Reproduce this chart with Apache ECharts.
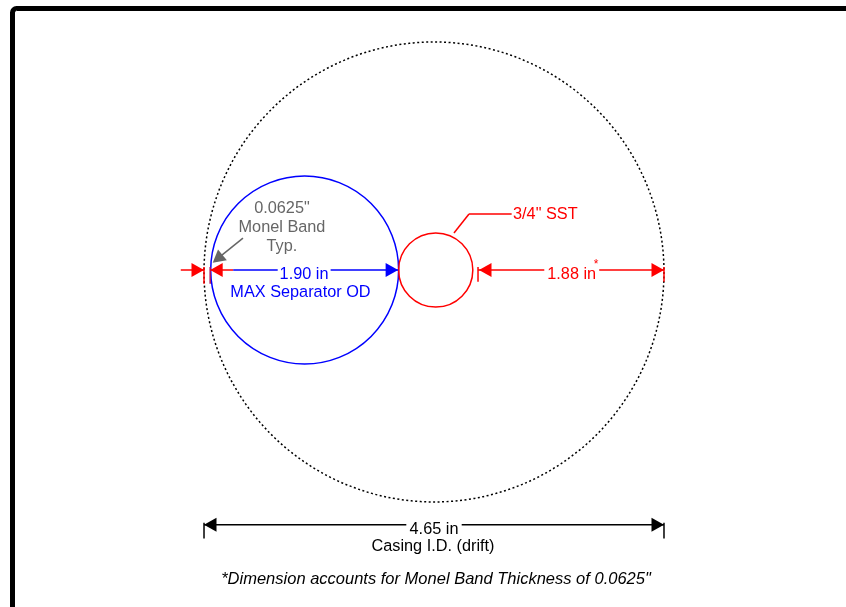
<!DOCTYPE html>
<html>
<head>
<meta charset="utf-8">
<style>html,body{margin:0;padding:0;background:#fff}#c{width:846px;height:607px}</style>
<script src="https://cdn.jsdelivr.net/npm/echarts@6/dist/echarts.min.js"></script>
</head>
<body>
<div id="c"></div>
<script>
// All lengths in inches, origin at the centre of the casing on the dimension line
const casingId = 4.65;
const bandThickness = 0.0625;
const separatorOd = 1.90;
const sstOd = 0.75;
const sstClearance = 1.88;
const overallDimY = -2.575;
const casingCenterY = -0.02;

const RED = '#ff0000', BLUE = '#0000ff', BLACK = '#000000', GRAY = '#666666';
const FONT = '"Liberation Sans", Helvetica, Arial, sans-serif';

const casingR = casingId / 2;
const sepLeft = -casingR + bandThickness;
const sepCx = sepLeft + separatorOd / 2;
const sstCx = sepLeft + separatorOd + sstOd / 2;
const clearLeft = casingR - sstClearance;

const circleNames = ['Casing', 'Separator', 'SST'];
const circleX = [0, sepCx + 0.005, sstCx + 0.005];
const circleY = [casingCenterY, 0, 0];
const circleDia = [casingId, separatorOd, sstOd];
const circleColor = [BLACK, BLUE, RED];
const circleWidth = [1.5, 1.5, 1.5];
const circleDash = [[2, 2.5], null, null];

// [x1, y1, x2, y2, colour]
const strokes = [
  [-casingR, overallDimY, -0.28, overallDimY, BLACK],
  [0.28, overallDimY, casingR, overallDimY, BLACK],
  [-casingR, overallDimY + 0.02, -casingR, overallDimY - 0.14, BLACK],
  [casingR, overallDimY + 0.02, casingR, overallDimY - 0.14, BLACK],
  [-2.56, 0, -casingR, 0, RED],
  [sepLeft, 0, -2.03, 0, RED],
  [-2.03, 0, -1.58, 0, BLUE],
  [-1.045, 0, sepLeft + separatorOd, 0, BLUE],
  [clearLeft, 0, 1.115, 0, RED],
  [1.67, 0, casingR, 0, RED],
  [-casingR, 0.03, -casingR, -0.14, RED],
  [sepLeft, 0.03, sepLeft, -0.14, '#b0105a'],
  [clearLeft, 0.03, clearLeft, -0.12, RED],
  [casingR, 0.03, casingR, -0.12, RED],
  [0.202, 0.374, 0.354, 0.566, RED],
  [0.354, 0.566, 0.785, 0.566, RED],
  [-1.931, 0.323, -2.16, 0.137, GRAY]
];

// [tipX, tipY, dirX, dirY, colour]  (dir: the way the arrow points, in chart axes)
const arrows = [
  [-casingR, overallDimY, -1, 0, BLACK],
  [casingR, overallDimY, 1, 0, BLACK],
  [-casingR, 0, 1, 0, RED],
  [sepLeft, 0, -1, 0, RED],
  [sepLeft + separatorOd, 0, 1, 0, BLUE],
  [clearLeft + 0.01, 0, -1, 0, RED],
  [casingR, 0, 1, 0, RED],
  [-2.237, 0.074, -0.777, -0.629, GRAY]
];

const TXT = 16.3;
// [text, x, y, colour, size, align, italic]
const labels = [
  ['4.65 in', 0, -2.623, BLACK, TXT, 'center', false],
  ['Casing I.D. (drift)', -0.01, -2.795, BLACK, TXT, 'center', false],
  ['*Dimension accounts for Monel Band Thickness of 0.0625"', 0.02, -3.124, BLACK, 16.5, 'center', true],
  ['1.90 in', -1.314, -0.045, BLUE, TXT, 'center', false],
  ['MAX Separator OD', -1.35, -0.227, BLUE, TXT, 'center', false],
  ['0.0625"', -1.537, 0.622, GRAY, TXT, 'center', false],
  ['Monel Band', -1.537, 0.43, GRAY, TXT, 'center', false],
  ['Typ.', -1.537, 0.238, GRAY, TXT, 'center', false],
  ['1.88 in', 1.392, -0.045, RED, TXT, 'center', false],
  ['*', 1.638, 0.05, RED, 12, 'center', false],
  ['3/4" SST', 0.799, 0.556, RED, TXT, 'left', false]
];

const chart = echarts.init(document.getElementById('c'), null, { renderer: 'canvas' });
const ppi = 98.92;
const idx = a => a.map((_, i) => [i]);

chart.setOption({
  animation: false,
  backgroundColor: '#ffffff',
  grid: { left: 0, right: 0, top: 0, bottom: 0 },
  xAxis: { type: 'value', show: false, min: -434 / ppi, max: 412 / ppi },
  yAxis: { type: 'value', show: false, min: -337 / ppi, max: 270 / ppi },
  graphic: [{
    type: 'rect', silent: true,
    shape: { x: 12.5, y: 8.5, width: 900, height: 700, r: 4 },
    style: { fill: null, stroke: '#000', lineWidth: 5 }
  }],
  series: [
    {
      type: 'custom', name: 'Circles', coordinateSystem: 'cartesian2d', silent: true,
      data: idx(circleNames),
      renderItem(p, api) {
        const i = api.value(0);
        const c = api.coord([circleX[i], circleY[i]]);
        const r = api.size([circleDia[i], 0])[0] / 2;
        return {
          type: 'circle', shape: { cx: c[0], cy: c[1], r },
          style: { fill: null, stroke: circleColor[i], lineWidth: circleWidth[i], lineDash: circleDash[i] }
        };
      }
    },
    {
      type: 'custom', name: 'Strokes', coordinateSystem: 'cartesian2d', silent: true,
      data: idx(strokes),
      renderItem(p, api) {
        const s = strokes[api.value(0)];
        const a = api.coord([s[0], s[1]]), b = api.coord([s[2], s[3]]);
        return {
          type: 'line', shape: { x1: a[0], y1: a[1], x2: b[0], y2: b[1] },
          style: { stroke: s[4], lineWidth: 1.5, fill: null }
        };
      }
    },
    {
      type: 'custom', name: 'Arrows', coordinateSystem: 'cartesian2d', silent: true,
      data: idx(arrows),
      renderItem(p, api) {
        const s = arrows[api.value(0)];
        const t = api.coord([s[0], s[1]]);
        const dx = s[2], dy = -s[3];
        const L = 12.5, W = 7;
        const bx = t[0] - dx * L, by = t[1] - dy * L;
        return {
          type: 'polygon',
          shape: { points: [t, [bx - dy * W, by + dx * W], [bx + dy * W, by - dx * W]] },
          style: { fill: s[4] }
        };
      }
    },
    {
      type: 'custom', name: 'Labels', coordinateSystem: 'cartesian2d', silent: true,
      data: idx(labels),
      renderItem(p, api) {
        const s = labels[api.value(0)];
        const c = api.coord([s[1], s[2]]);
        return {
          type: 'text',
          style: {
            x: c[0], y: c[1], text: s[0], fill: s[3],
            font: (s[6] ? 'italic ' : '') + s[4] + 'px ' + FONT,
            align: s[5], verticalAlign: 'middle'
          }
        };
      }
    }
  ]
});
</script>
</body>
</html>
